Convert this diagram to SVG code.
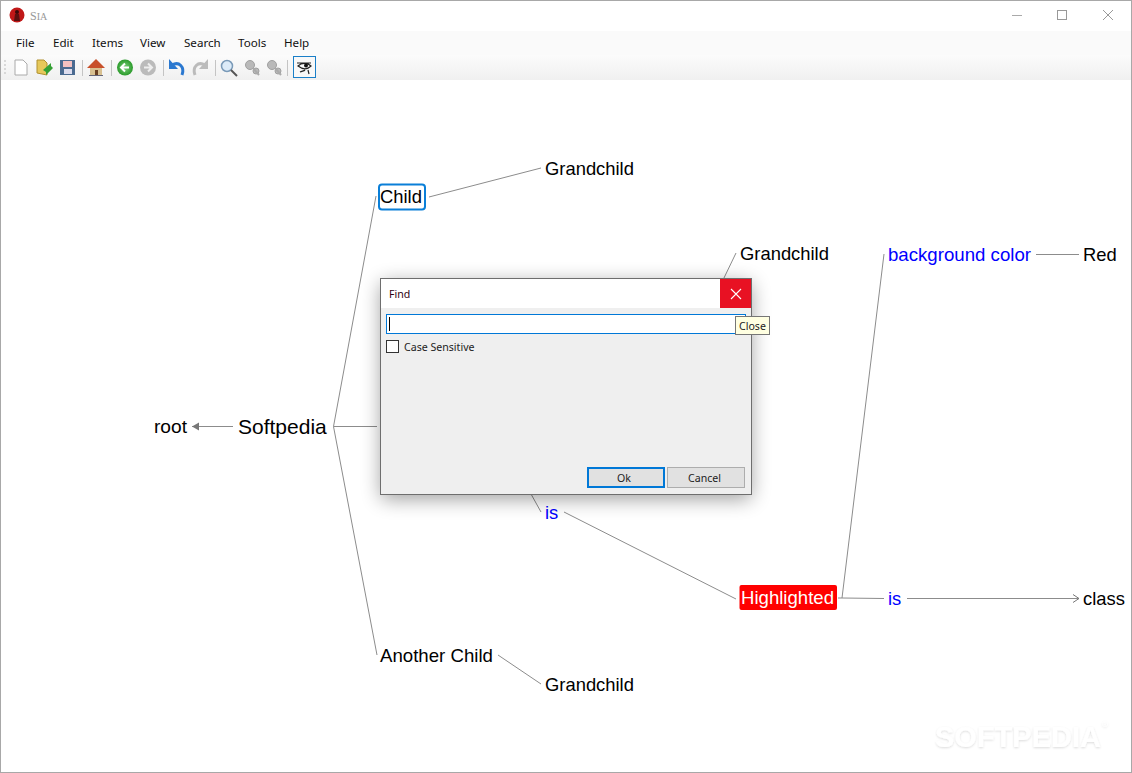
<svg xmlns="http://www.w3.org/2000/svg" width="1132" height="773" viewBox="0 0 1132 773">
<style>
text{font-family:"Liberation Sans",Arial,sans-serif;fill:#000}
.n{font-size:18.4px}
.b{fill:#0000ff}
.c{fill:none;stroke:#8c8c8c;stroke-width:1}
.u{font-family:"Noto Sans","Liberation Sans",sans-serif;font-size:11.600px;fill:#111}
.s{font-family:"Noto Sans","Liberation Sans",sans-serif;font-size:10.600px;fill:#222}
.sep{stroke:#c4c4c4;stroke-width:1}
.g{fill:#b9b9b9;stroke:#a0a0a0}
</style>
<defs>
<linearGradient id="tb" x1="0" y1="0" x2="0" y2="1"><stop offset="0" stop-color="#fbfbfb"/><stop offset="1" stop-color="#f0f0f0"/></linearGradient>
<radialGradient id="gr"><stop offset="0" stop-color="#7fd27f"/><stop offset="1" stop-color="#2a9a2a"/></radialGradient>
<filter id="sh" x="-15%" y="-20%" width="130%" height="140%"><feGaussianBlur stdDeviation="10"/></filter>
<filter id="wm" x="-5%" y="-20%" width="110%" height="140%"><feDropShadow dx="0" dy="1" stdDeviation="1" flood-color="#000" flood-opacity=".14"/></filter>
<marker id="open" markerUnits="userSpaceOnUse" markerWidth="10" markerHeight="10" refX="7" refY="5" orient="auto"><path d="M1 1L7 5L1 9" fill="none" stroke="#777"/></marker>
<marker id="solid" markerUnits="userSpaceOnUse" markerWidth="10" markerHeight="10" refX="8" refY="5" orient="auto"><path d="M1 1L8 5L1 9Z" fill="#777"/></marker>
</defs>
<rect width="1132" height="773" fill="#fff"/>

<g id="connectors">
<path class="c" d="M233 426.500H192" marker-end="url(#solid)"/>
<path class="c" d="M377 426.500H333.500L376 196"/>
<path class="c" d="M333.500 426.500L377 655"/>
<path class="c" d="M429 197L541 168"/>
<path class="c" d="M723 280L736 253"/>
<path class="c" d="M531 494L541 512"/>
<path class="c" d="M564 512L736 599"/>
<path class="c" d="M838 598H842L884 254"/>
<path class="c" d="M842 598L884 598.500"/>
<path class="c" d="M907 598.500H1079" marker-end="url(#open)"/>
<path class="c" d="M1036 254.500H1079"/>
<path class="c" d="M498 655L541 684"/>
</g>

<g id="node-root"><text class="n" x="154" y="433" textLength="33" lengthAdjust="spacingAndGlyphs">root</text></g>
<g id="node-softpedia"><text x="238" y="434" font-size="21">Softpedia</text></g>
<g id="node-child"><rect x="379" y="184.500" width="46" height="25" rx="3" fill="#fff" stroke="#0a7fd8" stroke-width="2"/><text class="n" x="380" y="203">Child</text></g>
<g id="node-grandchild-1"><text class="n" x="545" y="175">Grandchild</text></g>
<g id="node-grandchild-2"><text class="n" x="740" y="260">Grandchild</text></g>
<g id="node-background"><text class="n b" x="888" y="261" textLength="143" lengthAdjust="spacingAndGlyphs">background color</text></g>
<g id="node-red"><text class="n" x="1083" y="261">Red</text></g>
<g id="node-is-1"><text class="n b" x="545" y="519">is</text></g>
<g id="node-highlighted"><rect x="739.500" y="585" width="97.500" height="25" rx="2" fill="#ff0000"/><text class="n" x="741" y="604" style="fill:#fff" textLength="93" lengthAdjust="spacingAndGlyphs">Highlighted</text></g>
<g id="node-is-2"><text class="n b" x="888" y="605">is</text></g>
<g id="node-class"><text class="n" x="1083" y="605">class</text></g>
<g id="node-another"><text class="n" x="380" y="662" textLength="113" lengthAdjust="spacingAndGlyphs">Another Child</text></g>
<g id="node-grandchild-3"><text class="n" x="545" y="691">Grandchild</text></g>

<text x="935" y="747" font-size="29" font-weight="bold" style="fill:#ffffff" filter="url(#wm)">SOFTPEDIA<tspan dx="1" dy="-20" font-size="8" font-weight="normal">®</tspan></text>

<g id="chrome">
<rect x="0" y="0" width="1132" height="31" fill="#fff"/>
<rect x="0" y="31" width="1132" height="24" fill="#fafafa"/>
<rect x="0" y="55" width="1132" height="25" fill="url(#tb)"/>
<rect x="0.500" y="0.500" width="1131" height="772" fill="none" stroke="#a8a8a8"/>
<circle cx="17" cy="15" r="7.500" fill="#c01818"/><path d="M14 21L15 14H19L20 21Z" fill="#5a1010"/><circle cx="17" cy="12" r="2" fill="#3a0a0a"/>
<text x="30" y="20" style="font-family:'Liberation Serif',serif;fill:#999" font-size="12">S<tspan font-size="10">IA</tspan></text>
<path d="M1012 15.500H1022" stroke="#aaa"/>
<rect x="1057.500" y="10.500" width="9" height="9" fill="none" stroke="#999"/>
<path d="M1103 10L1113 20M1113 10L1103 20" stroke="#999"/>
<text class="u" x="16" y="47">File</text>
<text class="u" x="53" y="47">Edit</text>
<text class="u" x="92" y="47">Items</text>
<text class="u" x="140" y="47">View</text>
<text class="u" x="184" y="47">Search</text>
<text class="u" x="238" y="47">Tools</text>
<text class="u" x="284" y="47">Help</text>
<path d="M5 60V76" stroke="#bbb" stroke-dasharray="2 2"/>
<path d="M15 60H23L27 64V75H15Z" fill="#fff" stroke="#aaa"/>
<path d="M37 60H44L47 63V75L37 73Z" fill="#e6c85a" stroke="#b09030"/><path d="M43 70L51 63V66L53 68L46 75V72Z" fill="#34a034"/>
<path d="M60 60H75V75H60Z" fill="#4a6a90"/><rect x="63" y="61" width="9" height="6" fill="#f3c0c0"/><rect x="64" y="69" width="8" height="5" fill="#dde"/>
<path class="sep" d="M82.500 60V76"/>
<path d="M87 68L96 59L105 68Z" fill="#c8502a"/><rect x="90" y="68" width="12" height="8" fill="#d8c090"/><rect x="95" y="70" width="3" height="6" fill="#6a4020"/><rect x="89" y="75" width="14" height="1" fill="#667"/>
<path class="sep" d="M111.500 60V76"/>
<circle cx="125" cy="67.500" r="8" fill="url(#gr)"/><path d="M129 67.500H122M125 63.500L121 67.500L125 71.500" fill="none" stroke="#fff" stroke-width="2"/>
<circle cx="148" cy="67.500" r="8" fill="#bbb"/><path d="M144 67.500H151M148 63.500L152 67.500L148 71.500" fill="none" stroke="#eee" stroke-width="2"/>
<path class="sep" d="M163.500 60V76"/>
<path d="M182 75C185 67 179 61 172 65" fill="none" stroke="#2a78d0" stroke-width="3"/><path d="M169 59V69H178Z" fill="#2a78d0"/>
<path d="M195 75C192 67 198 61 205 65" fill="none" stroke="#bbb" stroke-width="3"/><path d="M208 59V69H199Z" fill="#bbb"/>
<path class="sep" d="M215.500 60V76"/>
<circle cx="227" cy="66" r="5.500" fill="#dcebf8" stroke="#7a9ab8" stroke-width="1.500"/><path d="M231 70L237 76" stroke="#555" stroke-width="2"/>
<circle cx="250" cy="65" r="4.500" class="g"/><circle cx="256" cy="71" r="3" class="g"/><path d="M253 68L259 75" stroke="#aaa" stroke-width="2"/>
<circle cx="272" cy="65" r="4.500" class="g"/><circle cx="278" cy="71" r="3" class="g"/><path d="M275 68L281 75" stroke="#aaa" stroke-width="2"/>
<path class="sep" d="M287.500 60V76"/>
<rect x="293.500" y="56.500" width="22" height="21" fill="#f8f8f8" stroke="#1a7fc8"/>
<path d="M297 63H311M298 66C302 62 308 63 311 66C307 70 302 69 298 66ZM300 72C302 71 304 71 305 70M308 70L309 74" fill="none" stroke="#222" stroke-width="1.200"/><circle cx="306" cy="65.500" r="2" fill="#111"/>
</g>

<g id="find-dialog">
<rect x="381" y="283" width="370" height="216" fill="#000" opacity=".38" filter="url(#sh)"/>
<rect x="380.500" y="278.500" width="371" height="216" fill="#efefef" stroke="#6e6e6e"/>
<rect x="381" y="279" width="370" height="29" fill="#fff"/>
<text class="s" x="389" y="298" style="fill:#300010">Find</text>
<rect x="720" y="279" width="31" height="29" fill="#e81123"/>
<path d="M731 289L741 299M741 289L731 299" stroke="#fff" stroke-width="1.100"/>
<rect x="386.500" y="314.500" width="359" height="19" fill="#fff" stroke="#0078d7"/>
<path d="M389.500 317V331" stroke="#000"/>
<rect x="386.500" y="340.500" width="12" height="12" fill="#fff" stroke="#333"/>
<text class="s" x="404" y="351">Case Sensitive</text>
<rect x="588" y="468" width="76" height="19" fill="#e1e1e1" stroke="#0078d7" stroke-width="2"/>
<text class="s" x="617" y="482">Ok</text>
<rect x="667.500" y="467.500" width="77" height="20" fill="#e1e1e1" stroke="#adadad"/>
<text class="s" x="688" y="482">Cancel</text>
</g>
<g id="tooltip">
<rect x="735.500" y="316.500" width="34" height="18" fill="#ffffe1" stroke="#767676"/>
<text class="s" x="739" y="330">Close</text>
</g>
</svg>
